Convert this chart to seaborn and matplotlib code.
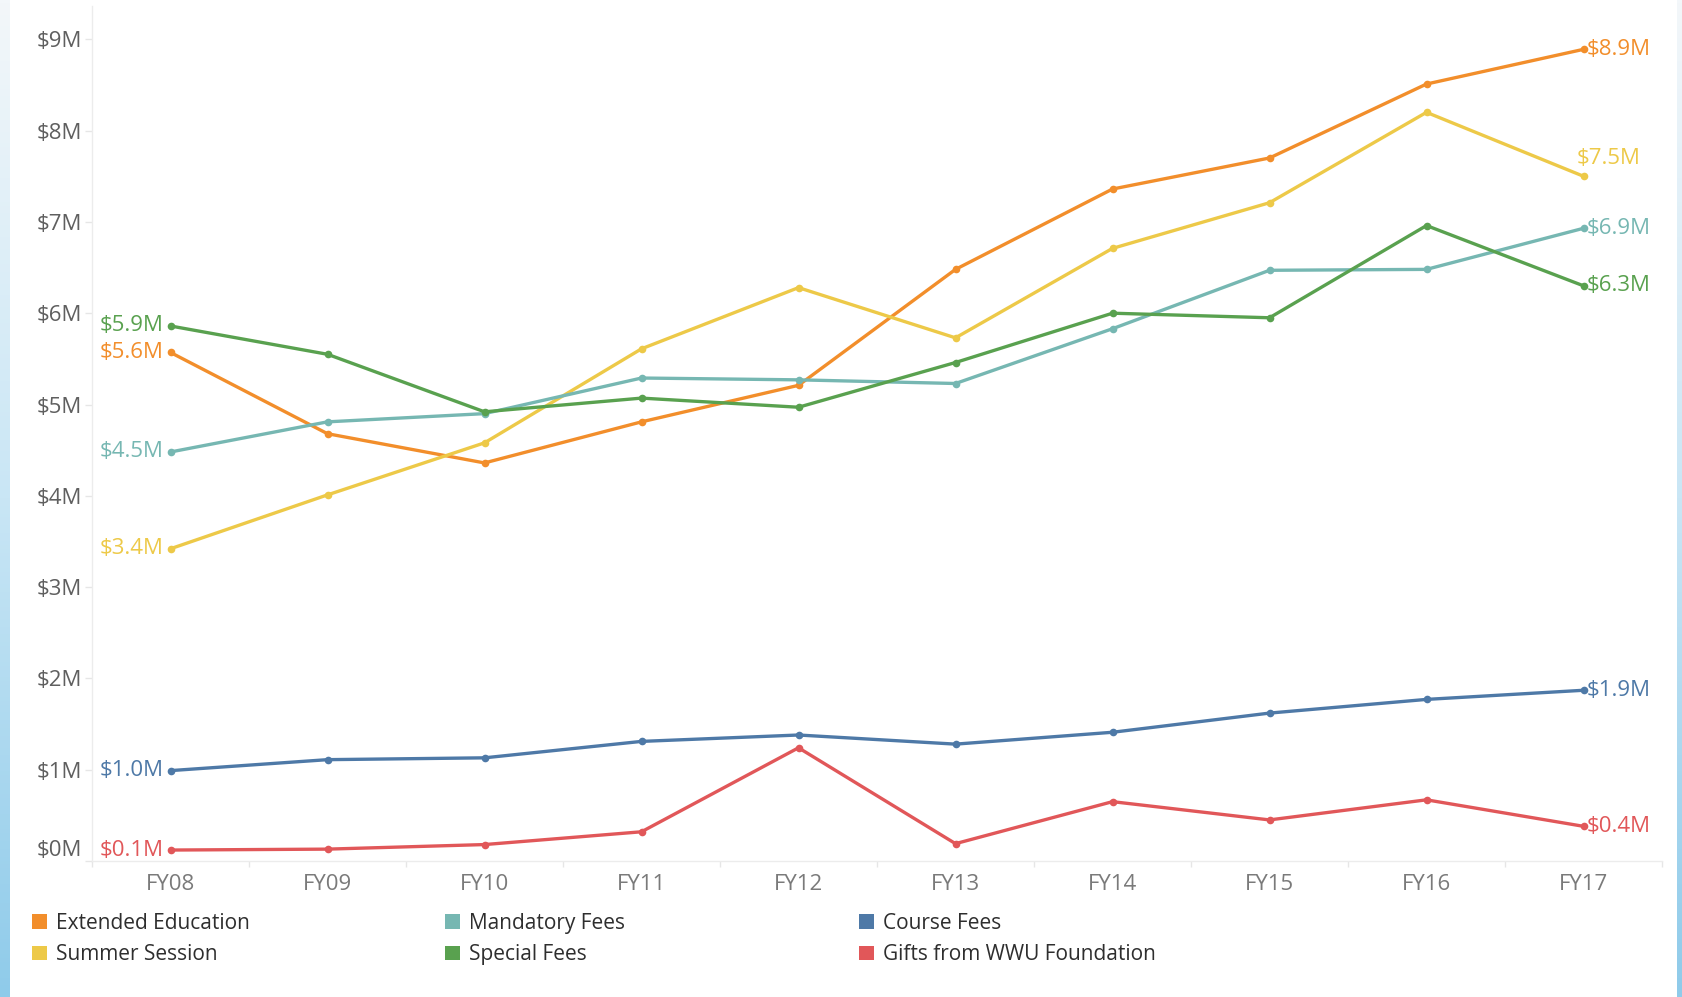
import numpy as np
import pandas as pd
import matplotlib
matplotlib.use("Agg")
import matplotlib.pyplot as plt
from matplotlib.patches import Patch
import seaborn as sns

# Fiscal years on the x axis
years = ["FY08", "FY09", "FY10", "FY11", "FY12", "FY13", "FY14", "FY15", "FY16", "FY17"]

# Revenue by source, in $ millions
extended_education = [5.57, 4.68, 4.36, 4.81, 5.21, 6.48, 7.36, 7.70, 8.51, 8.89]
summer_session = [3.42, 4.01, 4.58, 5.61, 6.28, 5.73, 6.71, 7.21, 8.20, 7.50]
mandatory_fees = [4.48, 4.81, 4.90, 5.29, 5.27, 5.23, 5.83, 6.47, 6.48, 6.93]
special_fees = [5.86, 5.55, 4.92, 5.07, 4.97, 5.46, 6.00, 5.95, 6.96, 6.30]
course_fees = [0.99, 1.11, 1.13, 1.31, 1.38, 1.28, 1.41, 1.62, 1.77, 1.87]
gifts_wwu = [0.12, 0.13, 0.18, 0.32, 1.24, 0.19, 0.65, 0.45, 0.67, 0.38]

series_names = ["Extended Education", "Summer Session", "Mandatory Fees",
                "Special Fees", "Course Fees", "Gifts from WWU Foundation"]
series_values = [extended_education, summer_session, mandatory_fees,
                 special_fees, course_fees, gifts_wwu]
series_colors = ["#F28E2B", "#EDC948", "#76B7B2", "#59A14F", "#4E79A7", "#E15759"]

y_ticks = [0, 1, 2, 3, 4, 5, 6, 7, 8, 9]
y_tick_labels = ["$0M", "$1M", "$2M", "$3M", "$4M", "$5M", "$6M", "$7M", "$8M", "$9M"]

df = pd.DataFrame(
    [(name, yr, v) for name, vals in zip(series_names, series_values)
     for yr, v in zip(years, vals)],
    columns=["source", "year", "value"],
)
palette = dict(zip(series_names, series_colors))

sns.set_theme(style="white")
plt.rcParams["font.family"] = ["Open Sans", "DejaVu Sans"]

W, H = 1683, 997
fig = plt.figure(figsize=(W / 100, H / 100), dpi=100)
fig.patch.set_facecolor("white")

# soft blue page edges
edge_cmap = matplotlib.colors.LinearSegmentedColormap.from_list(
    "edge", ["#8fcbea", "#c9e6f5", "#f3f7fa"])
grad = np.linspace(0, 1, 256).reshape(-1, 1)
for x0, w in [(0, 10), (1677, 6)]:
    edge = fig.add_axes([x0 / W, 0, w / W, 1])
    edge.imshow(grad, aspect="auto", cmap=edge_cmap, origin="lower")
    edge.axis("off")

left, right = 92 / W, 1662 / W
bottom, top = 1 - 861 / H, 1 - 6 / H
ax = fig.add_axes([left, bottom, right - left, top - bottom])

sns.lineplot(data=df, x="year", y="value", hue="source", palette=palette,
             hue_order=series_names, marker="o", markersize=5.5, markeredgewidth=0,
             linewidth=2.4, legend=False, ax=ax, sort=False)

ax.set_xlim(-0.5, len(years) - 0.5)
ax.set_ylim(0, 855 / 91.3)
ax.set_xlabel("")
ax.set_ylabel("")

for s in ["top", "right"]:
    ax.spines[s].set_visible(False)
for s in ["left", "bottom"]:
    ax.spines[s].set_color("#ececec")
    ax.spines[s].set_linewidth(1.0)

ax.set_yticks(y_ticks)
ax.set_yticklabels(y_tick_labels)
ax.tick_params(axis="y", which="major", length=5, width=1, color="#e6e6e6",
               labelsize=16, labelcolor="#5f5f5f", pad=2, left=True)
ax.set_xticks(range(len(years)))
ax.set_xticklabels(years)
ax.tick_params(axis="x", which="major", length=0, labelsize=16,
               labelcolor="#7a7a7a", pad=9)
ax.set_xticks(np.arange(-0.5, len(years), 1.0), minor=True)
ax.tick_params(axis="x", which="minor", length=4, width=1, color="#e6e6e6", bottom=True)
ax.yaxis.get_major_ticks()[0].label1.set_va("bottom")
ax.grid(False)

# value labels at both ends of every line
for name, vals, col in zip(series_names, series_values, series_colors):
    ax.annotate(f"${vals[0]:.1f}M", (0, vals[0]), xytext=(-5, 0),
                textcoords="offset points", ha="right", va="center",
                color=col, fontsize=16)
    if name == "Summer Session":
        ax.annotate(f"${vals[-1]:.1f}M", (len(years) - 1, vals[-1]), xytext=(-5, 13),
                    textcoords="offset points", ha="left", va="center",
                    color=col, fontsize=16)
    else:
        ax.annotate(f"${vals[-1]:.1f}M", (len(years) - 1, vals[-1]), xytext=(2, 0),
                    textcoords="offset points", ha="left", va="center",
                    color=col, fontsize=16)

# legend in three two-row columns
col_x = [32 / W, 445 / W, 859 / W]
for i, x0 in enumerate(col_x):
    names = series_names[2 * i:2 * i + 2]
    handles = [Patch(facecolor=palette[n], edgecolor="none") for n in names]
    fig.legend(handles, names, loc="upper left", bbox_to_anchor=(x0, 1 - 913 / H),
               frameon=False, prop={"size": 15, "weight": "medium"},
               handlelength=0.7, handleheight=0.7,
               handletextpad=0.45, labelspacing=0.49, borderpad=0, borderaxespad=0,
               labelcolor="#2e2e2e")

fig.savefig("out.png", dpi=100, facecolor="white")
